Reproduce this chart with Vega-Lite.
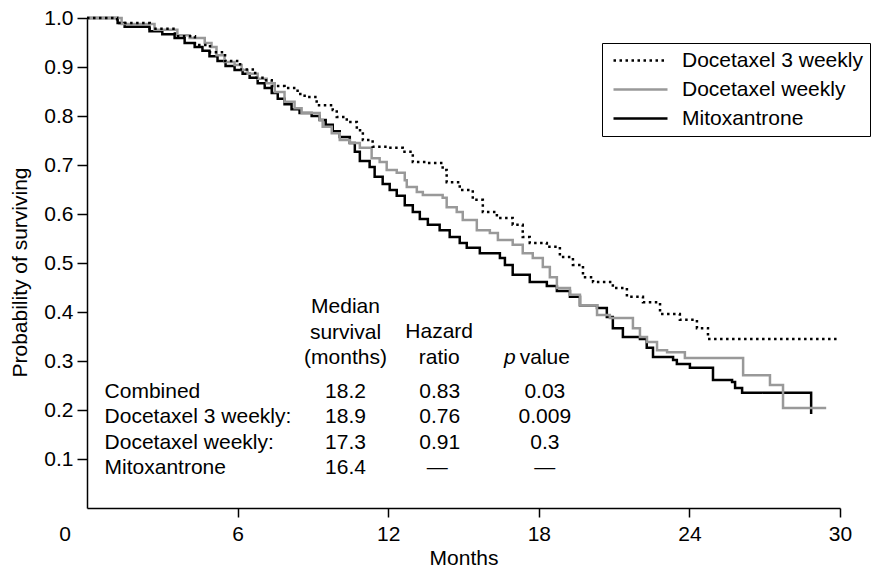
{
  "$schema": "https://vega.github.io/schema/vega-lite/v6.json",
  "autosize": "none",
  "width": 753,
  "height": 490,
  "padding": {"left": 87, "top": 18, "right": 36, "bottom": 61},
  "background": "white",
  "config": {
    "view": {"stroke": null},
    "font": "Liberation Sans",
    "axis": {
      "domainColor": "black", "domainWidth": 1.5, "tickColor": "black", "tickWidth": 1.5,
      "grid": false, "labelFont": "Liberation Sans", "labelFontSize": 21, "labelColor": "black",
      "titleFont": "Liberation Sans", "titleFontSize": 21, "titleFontWeight": "normal", "titleColor": "black",
      "labelFlush": false
    },
    "legend": {"labelFont": "Liberation Sans", "labelFontSize": 21, "labelColor": "black"}
  },
  "datasets": {
    "km": [
      {"group": "Mitoxantrone", "t": 0, "s": 1.0},
      {"group": "Mitoxantrone", "t": 1.22, "s": 0.99},
      {"group": "Mitoxantrone", "t": 1.5, "s": 0.982},
      {"group": "Mitoxantrone", "t": 2.49, "s": 0.973},
      {"group": "Mitoxantrone", "t": 3.0, "s": 0.967},
      {"group": "Mitoxantrone", "t": 3.49, "s": 0.959},
      {"group": "Mitoxantrone", "t": 3.89, "s": 0.949},
      {"group": "Mitoxantrone", "t": 4.29, "s": 0.941},
      {"group": "Mitoxantrone", "t": 4.6, "s": 0.933},
      {"group": "Mitoxantrone", "t": 4.88, "s": 0.922},
      {"group": "Mitoxantrone", "t": 5.2, "s": 0.912},
      {"group": "Mitoxantrone", "t": 5.52, "s": 0.902},
      {"group": "Mitoxantrone", "t": 5.88, "s": 0.894},
      {"group": "Mitoxantrone", "t": 6.2, "s": 0.886},
      {"group": "Mitoxantrone", "t": 6.48, "s": 0.878},
      {"group": "Mitoxantrone", "t": 6.8, "s": 0.867},
      {"group": "Mitoxantrone", "t": 7.08, "s": 0.857},
      {"group": "Mitoxantrone", "t": 7.36, "s": 0.847},
      {"group": "Mitoxantrone", "t": 7.6, "s": 0.835},
      {"group": "Mitoxantrone", "t": 7.87, "s": 0.824},
      {"group": "Mitoxantrone", "t": 8.15, "s": 0.814},
      {"group": "Mitoxantrone", "t": 8.47, "s": 0.806},
      {"group": "Mitoxantrone", "t": 8.95, "s": 0.8},
      {"group": "Mitoxantrone", "t": 9.27, "s": 0.792},
      {"group": "Mitoxantrone", "t": 9.51, "s": 0.782},
      {"group": "Mitoxantrone", "t": 9.79, "s": 0.769},
      {"group": "Mitoxantrone", "t": 10.07, "s": 0.757},
      {"group": "Mitoxantrone", "t": 10.47, "s": 0.745},
      {"group": "Mitoxantrone", "t": 10.67, "s": 0.727},
      {"group": "Mitoxantrone", "t": 10.87, "s": 0.708},
      {"group": "Mitoxantrone", "t": 11.26, "s": 0.696},
      {"group": "Mitoxantrone", "t": 11.46, "s": 0.676},
      {"group": "Mitoxantrone", "t": 11.78, "s": 0.661},
      {"group": "Mitoxantrone", "t": 12.06, "s": 0.649},
      {"group": "Mitoxantrone", "t": 12.34, "s": 0.637},
      {"group": "Mitoxantrone", "t": 12.66, "s": 0.618},
      {"group": "Mitoxantrone", "t": 12.98, "s": 0.604},
      {"group": "Mitoxantrone", "t": 13.26, "s": 0.59},
      {"group": "Mitoxantrone", "t": 13.58, "s": 0.578},
      {"group": "Mitoxantrone", "t": 14.05, "s": 0.567},
      {"group": "Mitoxantrone", "t": 14.45, "s": 0.553},
      {"group": "Mitoxantrone", "t": 14.85, "s": 0.541},
      {"group": "Mitoxantrone", "t": 15.13, "s": 0.531},
      {"group": "Mitoxantrone", "t": 15.65, "s": 0.52},
      {"group": "Mitoxantrone", "t": 16.45, "s": 0.51},
      {"group": "Mitoxantrone", "t": 16.65, "s": 0.496},
      {"group": "Mitoxantrone", "t": 16.96, "s": 0.476},
      {"group": "Mitoxantrone", "t": 17.64, "s": 0.461},
      {"group": "Mitoxantrone", "t": 18.32, "s": 0.453},
      {"group": "Mitoxantrone", "t": 18.72, "s": 0.443},
      {"group": "Mitoxantrone", "t": 19.24, "s": 0.431},
      {"group": "Mitoxantrone", "t": 19.64, "s": 0.414},
      {"group": "Mitoxantrone", "t": 20.32, "s": 0.408},
      {"group": "Mitoxantrone", "t": 20.71, "s": 0.39},
      {"group": "Mitoxantrone", "t": 20.95, "s": 0.367},
      {"group": "Mitoxantrone", "t": 21.35, "s": 0.349},
      {"group": "Mitoxantrone", "t": 22.03, "s": 0.345},
      {"group": "Mitoxantrone", "t": 22.3, "s": 0.327},
      {"group": "Mitoxantrone", "t": 22.55, "s": 0.308},
      {"group": "Mitoxantrone", "t": 23.35, "s": 0.302},
      {"group": "Mitoxantrone", "t": 23.5, "s": 0.294},
      {"group": "Mitoxantrone", "t": 24.02, "s": 0.286},
      {"group": "Mitoxantrone", "t": 24.94, "s": 0.261},
      {"group": "Mitoxantrone", "t": 25.7, "s": 0.257},
      {"group": "Mitoxantrone", "t": 25.82, "s": 0.245},
      {"group": "Mitoxantrone", "t": 26.1, "s": 0.235},
      {"group": "Mitoxantrone", "t": 28.85, "s": 0.192},

      {"group": "Docetaxel weekly", "t": 0, "s": 1.0},
      {"group": "Docetaxel weekly", "t": 1.38, "s": 0.988},
      {"group": "Docetaxel weekly", "t": 2.69, "s": 0.976},
      {"group": "Docetaxel weekly", "t": 3.6, "s": 0.965},
      {"group": "Docetaxel weekly", "t": 4.09, "s": 0.959},
      {"group": "Docetaxel weekly", "t": 4.69, "s": 0.949},
      {"group": "Docetaxel weekly", "t": 4.96, "s": 0.941},
      {"group": "Docetaxel weekly", "t": 5.16, "s": 0.924},
      {"group": "Docetaxel weekly", "t": 5.48, "s": 0.91},
      {"group": "Docetaxel weekly", "t": 5.88, "s": 0.904},
      {"group": "Docetaxel weekly", "t": 6.16, "s": 0.894},
      {"group": "Docetaxel weekly", "t": 6.4, "s": 0.886},
      {"group": "Docetaxel weekly", "t": 6.8, "s": 0.876},
      {"group": "Docetaxel weekly", "t": 7.16, "s": 0.867},
      {"group": "Docetaxel weekly", "t": 7.48, "s": 0.849},
      {"group": "Docetaxel weekly", "t": 7.87, "s": 0.829},
      {"group": "Docetaxel weekly", "t": 8.27, "s": 0.816},
      {"group": "Docetaxel weekly", "t": 8.55, "s": 0.806},
      {"group": "Docetaxel weekly", "t": 9.27, "s": 0.792},
      {"group": "Docetaxel weekly", "t": 9.39, "s": 0.778},
      {"group": "Docetaxel weekly", "t": 9.75, "s": 0.765},
      {"group": "Docetaxel weekly", "t": 10.07, "s": 0.751},
      {"group": "Docetaxel weekly", "t": 10.47, "s": 0.745},
      {"group": "Docetaxel weekly", "t": 10.87, "s": 0.735},
      {"group": "Docetaxel weekly", "t": 11.34, "s": 0.714},
      {"group": "Docetaxel weekly", "t": 11.66, "s": 0.706},
      {"group": "Docetaxel weekly", "t": 11.94, "s": 0.69},
      {"group": "Docetaxel weekly", "t": 12.34, "s": 0.684},
      {"group": "Docetaxel weekly", "t": 12.66, "s": 0.669},
      {"group": "Docetaxel weekly", "t": 12.74, "s": 0.655},
      {"group": "Docetaxel weekly", "t": 13.14, "s": 0.645},
      {"group": "Docetaxel weekly", "t": 13.38, "s": 0.639},
      {"group": "Docetaxel weekly", "t": 14.17, "s": 0.633},
      {"group": "Docetaxel weekly", "t": 14.33, "s": 0.614},
      {"group": "Docetaxel weekly", "t": 14.73, "s": 0.604},
      {"group": "Docetaxel weekly", "t": 14.97, "s": 0.588},
      {"group": "Docetaxel weekly", "t": 15.53, "s": 0.567},
      {"group": "Docetaxel weekly", "t": 16.05, "s": 0.561},
      {"group": "Docetaxel weekly", "t": 16.37, "s": 0.547},
      {"group": "Docetaxel weekly", "t": 16.96, "s": 0.537},
      {"group": "Docetaxel weekly", "t": 17.36, "s": 0.52},
      {"group": "Docetaxel weekly", "t": 17.76, "s": 0.51},
      {"group": "Docetaxel weekly", "t": 18.16, "s": 0.492},
      {"group": "Docetaxel weekly", "t": 18.44, "s": 0.471},
      {"group": "Docetaxel weekly", "t": 18.72, "s": 0.449},
      {"group": "Docetaxel weekly", "t": 19.24, "s": 0.435},
      {"group": "Docetaxel weekly", "t": 19.64, "s": 0.414},
      {"group": "Docetaxel weekly", "t": 20.32, "s": 0.394},
      {"group": "Docetaxel weekly", "t": 20.83, "s": 0.388},
      {"group": "Docetaxel weekly", "t": 21.75, "s": 0.367},
      {"group": "Docetaxel weekly", "t": 22.03, "s": 0.349},
      {"group": "Docetaxel weekly", "t": 22.31, "s": 0.339},
      {"group": "Docetaxel weekly", "t": 22.71, "s": 0.322},
      {"group": "Docetaxel weekly", "t": 23.11, "s": 0.318},
      {"group": "Docetaxel weekly", "t": 23.82, "s": 0.306},
      {"group": "Docetaxel weekly", "t": 26.14, "s": 0.271},
      {"group": "Docetaxel weekly", "t": 27.21, "s": 0.251},
      {"group": "Docetaxel weekly", "t": 27.73, "s": 0.204},
      {"group": "Docetaxel weekly", "t": 29.45, "s": 0.204},

      {"group": "Docetaxel 3 weekly", "t": 0, "s": 1.0},
      {"group": "Docetaxel 3 weekly", "t": 1.2, "s": 0.99},
      {"group": "Docetaxel 3 weekly", "t": 2.5, "s": 0.978},
      {"group": "Docetaxel 3 weekly", "t": 3.5, "s": 0.963},
      {"group": "Docetaxel 3 weekly", "t": 4.3, "s": 0.945},
      {"group": "Docetaxel 3 weekly", "t": 4.9, "s": 0.93},
      {"group": "Docetaxel 3 weekly", "t": 5.5, "s": 0.912},
      {"group": "Docetaxel 3 weekly", "t": 6.1, "s": 0.895},
      {"group": "Docetaxel 3 weekly", "t": 6.7, "s": 0.878},
      {"group": "Docetaxel 3 weekly", "t": 7.08, "s": 0.873},
      {"group": "Docetaxel 3 weekly", "t": 7.36, "s": 0.861},
      {"group": "Docetaxel 3 weekly", "t": 7.87, "s": 0.857},
      {"group": "Docetaxel 3 weekly", "t": 8.39, "s": 0.845},
      {"group": "Docetaxel 3 weekly", "t": 8.67, "s": 0.839},
      {"group": "Docetaxel 3 weekly", "t": 9.15, "s": 0.822},
      {"group": "Docetaxel 3 weekly", "t": 9.79, "s": 0.812},
      {"group": "Docetaxel 3 weekly", "t": 9.95, "s": 0.798},
      {"group": "Docetaxel 3 weekly", "t": 10.35, "s": 0.788},
      {"group": "Docetaxel 3 weekly", "t": 10.75, "s": 0.771},
      {"group": "Docetaxel 3 weekly", "t": 10.99, "s": 0.751},
      {"group": "Docetaxel 3 weekly", "t": 11.38, "s": 0.737},
      {"group": "Docetaxel 3 weekly", "t": 11.94, "s": 0.735},
      {"group": "Docetaxel 3 weekly", "t": 12.58, "s": 0.727},
      {"group": "Docetaxel 3 weekly", "t": 12.98, "s": 0.706},
      {"group": "Docetaxel 3 weekly", "t": 13.54, "s": 0.704},
      {"group": "Docetaxel 3 weekly", "t": 14.17, "s": 0.69},
      {"group": "Docetaxel 3 weekly", "t": 14.33, "s": 0.665},
      {"group": "Docetaxel 3 weekly", "t": 14.85, "s": 0.649},
      {"group": "Docetaxel 3 weekly", "t": 15.37, "s": 0.629},
      {"group": "Docetaxel 3 weekly", "t": 15.77, "s": 0.604},
      {"group": "Docetaxel 3 weekly", "t": 16.33, "s": 0.592},
      {"group": "Docetaxel 3 weekly", "t": 16.96, "s": 0.578},
      {"group": "Docetaxel 3 weekly", "t": 17.36, "s": 0.553},
      {"group": "Docetaxel 3 weekly", "t": 17.64, "s": 0.541},
      {"group": "Docetaxel 3 weekly", "t": 18.32, "s": 0.533},
      {"group": "Docetaxel 3 weekly", "t": 18.84, "s": 0.512},
      {"group": "Docetaxel 3 weekly", "t": 19.36, "s": 0.496},
      {"group": "Docetaxel 3 weekly", "t": 19.76, "s": 0.471},
      {"group": "Docetaxel 3 weekly", "t": 20.16, "s": 0.461},
      {"group": "Docetaxel 3 weekly", "t": 20.95, "s": 0.449},
      {"group": "Docetaxel 3 weekly", "t": 21.51, "s": 0.431},
      {"group": "Docetaxel 3 weekly", "t": 22.15, "s": 0.42},
      {"group": "Docetaxel 3 weekly", "t": 22.83, "s": 0.396},
      {"group": "Docetaxel 3 weekly", "t": 23.62, "s": 0.384},
      {"group": "Docetaxel 3 weekly", "t": 24.3, "s": 0.367},
      {"group": "Docetaxel 3 weekly", "t": 24.74, "s": 0.345},
      {"group": "Docetaxel 3 weekly", "t": 29.92, "s": 0.345}
    ],
    "rowlabels": [
      {"x": 0.7, "y": 0.237, "label": "Combined"},
      {"x": 0.7, "y": 0.186, "label": "Docetaxel 3 weekly:"},
      {"x": 0.7, "y": 0.133, "label": "Docetaxel weekly:"},
      {"x": 0.7, "y": 0.082, "label": "Mitoxantrone"}
    ],
    "cells": [
      {"x": 10.3, "y": 0.41, "label": "Median"},
      {"x": 10.3, "y": 0.357, "label": "survival"},
      {"x": 10.3, "y": 0.306, "label": "(months)"},
      {"x": 14.03, "y": 0.359, "label": "Hazard"},
      {"x": 14.03, "y": 0.306, "label": "ratio"},
      {"x": 10.3, "y": 0.237, "label": "18.2"},
      {"x": 10.3, "y": 0.186, "label": "18.9"},
      {"x": 10.3, "y": 0.133, "label": "17.3"},
      {"x": 10.3, "y": 0.082, "label": "16.4"},
      {"x": 14.05, "y": 0.237, "label": "0.83"},
      {"x": 14.05, "y": 0.186, "label": "0.76"},
      {"x": 14.05, "y": 0.133, "label": "0.91"},
      {"x": 13.95, "y": 0.082, "label": "—"},
      {"x": 18.24, "y": 0.237, "label": "0.03"},
      {"x": 18.24, "y": 0.186, "label": "0.009"},
      {"x": 18.24, "y": 0.133, "label": "0.3"},
      {"x": 18.24, "y": 0.082, "label": "—"}
    ],
    "pword": [{"x": 17.08, "y": 0.306, "label": "p"}],
    "valueword": [{"x": 17.24, "y": 0.306, "label": "value"}],
    "origin": [{"x": 0, "y": 0, "label": "0"}]
  },
  "layer": [
    {
      "data": {"name": "km"},
      "mark": {"type": "line", "interpolate": "step-after", "strokeWidth": 2.5, "strokeCap": "butt"},
      "encoding": {
        "x": {
          "field": "t", "type": "quantitative",
          "scale": {"domain": [0, 30], "nice": false, "zero": false},
          "axis": {"values": [6, 12, 18, 24, 30], "tickSize": 9, "labelPadding": 6, "title": "Months", "titlePadding": 3}
        },
        "y": {
          "field": "s", "type": "quantitative",
          "scale": {"domain": [0, 1], "nice": false},
          "axis": {"values": [0.1, 0.2, 0.3, 0.4, 0.5, 0.6, 0.7, 0.8, 0.9, 1.0], "format": ".1f", "tickSize": 10, "labelPadding": 4, "title": "Probability of surviving", "titlePadding": 13, "titleY": 254}
        },
        "color": {
          "field": "group", "type": "nominal",
          "scale": {"domain": ["Docetaxel 3 weekly", "Docetaxel weekly", "Mitoxantrone"], "range": ["#000000", "#999999", "#000000"]},
          "legend": {
            "title": null, "orient": "none", "legendX": 515, "legendY": 25,
            "symbolType": "M-5.4,0H5.4", "symbolSize": 100, "symbolStrokeWidth": 2.5, "symbolOffset": 21,
            "strokeColor": "black", "padding": 7, "rowPadding": 7, "labelOffset": 31, "labelLimit": 300
          }
        },
        "strokeDash": {
          "field": "group", "type": "nominal",
          "scale": {"domain": ["Docetaxel 3 weekly", "Docetaxel weekly", "Mitoxantrone"], "range": [[2.5, 3.5], [1, 0], [1, 0]]},
          "legend": {
            "title": null, "orient": "none", "legendX": 515, "legendY": 25,
            "symbolType": "M-5.4,0H5.4", "symbolSize": 100, "symbolStrokeWidth": 2.5, "symbolOffset": 21,
            "strokeColor": "black", "padding": 7, "rowPadding": 7, "labelOffset": 31, "labelLimit": 300
          }
        }
      }
    },
    {
      "data": {"name": "rowlabels"},
      "mark": {"type": "text", "align": "left", "baseline": "middle", "fontSize": 21, "font": "Liberation Sans", "color": "black"},
      "encoding": {"x": {"field": "x", "type": "quantitative"}, "y": {"field": "y", "type": "quantitative"}, "text": {"field": "label"}}
    },
    {
      "data": {"name": "cells"},
      "mark": {"type": "text", "align": "center", "baseline": "middle", "fontSize": 21, "font": "Liberation Sans", "color": "black"},
      "encoding": {"x": {"field": "x", "type": "quantitative"}, "y": {"field": "y", "type": "quantitative"}, "text": {"field": "label"}}
    },
    {
      "data": {"name": "pword"},
      "mark": {"type": "text", "align": "right", "baseline": "middle", "fontSize": 21, "fontStyle": "italic", "font": "Liberation Sans", "color": "black"},
      "encoding": {"x": {"field": "x", "type": "quantitative"}, "y": {"field": "y", "type": "quantitative"}, "text": {"field": "label"}}
    },
    {
      "data": {"name": "valueword"},
      "mark": {"type": "text", "align": "left", "baseline": "middle", "fontSize": 21, "font": "Liberation Sans", "color": "black"},
      "encoding": {"x": {"field": "x", "type": "quantitative"}, "y": {"field": "y", "type": "quantitative"}, "text": {"field": "label"}}
    },
    {
      "data": {"name": "origin"},
      "mark": {"type": "text", "align": "center", "baseline": "middle", "fontSize": 21, "font": "Liberation Sans", "color": "black", "dx": -22, "dy": 27},
      "encoding": {"x": {"field": "x", "type": "quantitative"}, "y": {"field": "y", "type": "quantitative"}, "text": {"field": "label"}}
    }
  ]
}
